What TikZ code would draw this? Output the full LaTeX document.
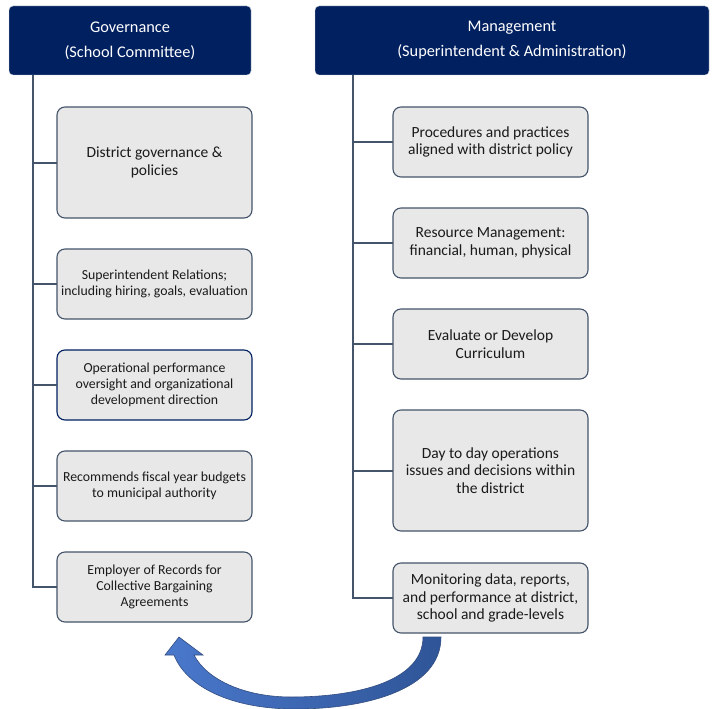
\documentclass[tikz,border=0pt]{standalone}
\usepackage{fontspec}
\setmainfont{Carlito}
\usetikzlibrary{positioning}
\definecolor{navy}{HTML}{002060}
\definecolor{slate}{HTML}{44546A}
\definecolor{boxgray}{HTML}{E8E8E8}
\definecolor{textdark}{HTML}{1A1A1A}
\definecolor{arrowlight}{HTML}{4A78CC}
\definecolor{arrowdark}{HTML}{2F5597}

\begin{document}
\begin{tikzpicture}[
            x=1pt, y=-1pt,
            node distance=31pt,
            header/.style={draw=gray!35, fill=navy, text=white, rounded corners=4pt, minimum height=69pt, align=center, font=\fontsize{16.3}{25}\selectfont},
            item/.style={draw=slate, fill=boxgray, line width=1.1pt, outer sep=0pt, rounded corners=8pt, minimum width=195pt, minimum height=70pt, align=center, text=textdark, font=\fontsize{15.5}{17.6}\selectfont},
            smallitem/.style={item, font=\fontsize{13.8}{16}\selectfont},
            branch/.style={draw=slate, line width=2pt},
            bigarrow/.style={draw=navy!80, line width=0.6pt, left color=arrowlight, right color=arrowdark}
        ]
        \useasboundingbox (0,0) rectangle (718,709);

        % Headers
        \node[header, minimum width=242pt] (gov) at (130,40.5) {Governance\\(School Committee)};
        \node[header, minimum width=394pt] (mgmt) at (512,40.5) {Management\\(Superintendent \& Administration)};

        % Governance column
        \node[item, minimum height=111pt] (g1) at (154.5,162.5) {District governance \&\\policies};
        \node[smallitem, below=of g1] (g2) {Superintendent Relations;\\including hiring, goals, evaluation};
        \node[smallitem, below=of g2, draw=navy] (g3) {Operational performance\\oversight and organizational\\development direction};
        \node[smallitem, below=of g3] (g4) {Recommends fiscal year budgets\\to municipal authority};
        \node[smallitem, below=of g4] (g5) {Employer of Records for\\Collective Bargaining\\Agreements};

        % Management column
        \node[item] (m1) at (490.5,142) {Procedures and practices\\aligned with district policy};
        \node[item, below=of m1] (m2) {Resource Management:\\financial, human, physical};
        \node[item, below=of m2] (m3) {Evaluate or Develop\\Curriculum};
        \node[item, below=of m3, minimum height=121pt] (m4) {Day to day operations\\issues and decisions within\\the district};
        \node[item, below=32pt of m4] (m5) {Monitoring data, reports,\\and performance at district,\\school and grade-levels};

        % Trunks and branches
        \coordinate (govtrunk) at (33,75);
        \coordinate (mgmttrunk) at (353,75);
        \draw[branch] (govtrunk) |- (g5.west);
        \draw[branch] (mgmttrunk) |- (m5.west);
        \foreach \i in {1,...,4} {
            \draw[branch] (govtrunk |- g\i.west) -- (g\i.west);
            \draw[branch] (mgmttrunk |- m\i.west) -- (m\i.west);
        }

        % Feedback arrow
        \path[bigarrow] (423,637) -- (441,637)
            .. controls (441,690) and (365,709) .. (295,709)
            .. controls (230,709) and (186,686) .. (174,655)
            -- (165,655) -- (179,637) -- (203,655) -- (194,655)
            .. controls (207,680) and (245,697) .. (291,697)
            .. controls (360,697) and (423,680) .. (423,637) -- cycle;
\end{tikzpicture}
\end{document}
